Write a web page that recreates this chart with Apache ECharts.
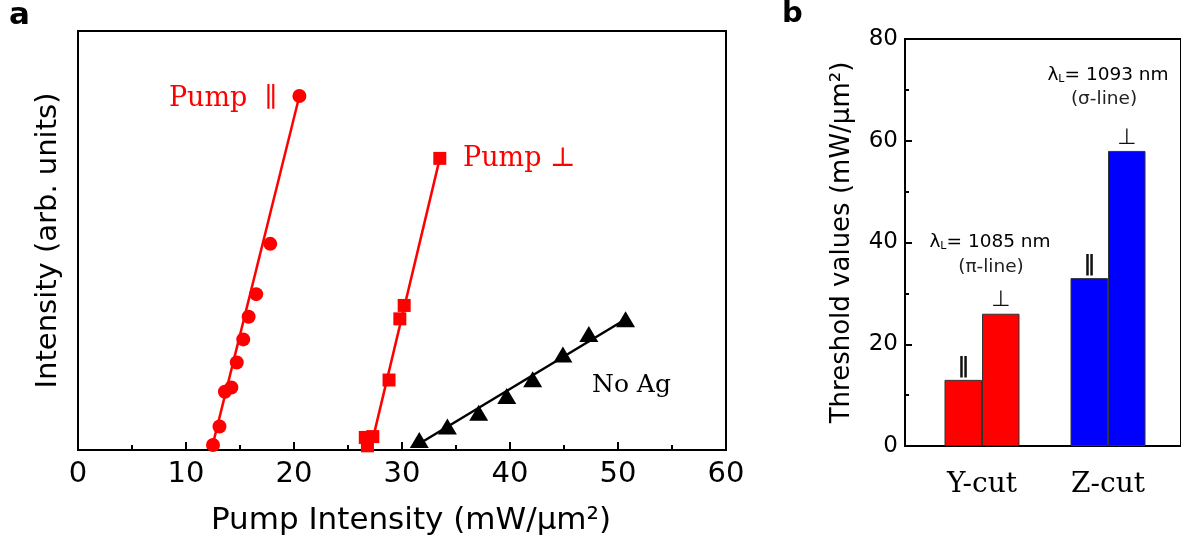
<!DOCTYPE html>
<html>
<head>
<meta charset="utf-8">
<script src="https://cdn.jsdelivr.net/npm/echarts@6/dist/echarts.min.js"></script>
<style>
  html, body { margin: 0; padding: 0; background: #fff; }
  #chart { width: 1181px; height: 550px; }
</style>
</head>
<body>
<div id="chart"></div>
<script>
// Panel a: pump intensity (mW/um^2) vs emission intensity (arb. units)
const parX = [12.5, 13.1, 13.6, 14.2, 14.7, 15.3, 15.8, 16.5, 17.8, 20.5];
const parY = [1.2, 5.6, 13.9, 14.9, 20.9, 26.4, 31.8, 37.2, 49.2, 84.5];
const perpX = [26.6, 26.8, 27.3, 28.8, 29.8, 30.2, 33.5];
const perpY = [3.0, 1.0, 3.2, 16.7, 31.3, 34.5, 69.6];
const noAgX = [31.6, 34.2, 37.1, 39.7, 42.1, 44.9, 47.3, 50.7];
const noAgY = [2.4, 5.6, 8.9, 12.9, 16.9, 22.8, 27.7, 31.2];

// linear fits (end points)
const parFit = [[12.4, 0.5], [20.5, 84.5]];
const perpFit = [[27.1, 0.5], [33.5, 69.6]];
const noAgFit = [[31.4, 1.2], [50.7, 31.2]];

// Panel b: threshold values
const cuts = ['Y-cut', 'Z-cut'];
const parThreshold = [13, 33];
const perpThreshold = [26, 58];
const cutColors = ['#ff0000', '#0000ff'];

const zip = (xs, ys) => xs.map((x, i) => [x, ys[i]]);

const chart = echarts.init(document.getElementById('chart'));

const black = '#000';
const sans = 'DejaVu Sans';
const serif = 'DejaVu Serif';

// rich style for the lambda_L annotations
const lambdaRich = {
  a: { fontFamily: sans, fontSize: 18.5, color: '#222' },
  s: { fontFamily: sans, fontSize: 11, color: '#222', verticalAlign: 'bottom' }
};

const option = {
  animation: false,
  grid: [
    { left: 78, top: 31, width: 648, height: 419, show: true, borderColor: black, borderWidth: 2 },
    { left: 905, top: 39, width: 300, height: 407, show: true, borderColor: black, borderWidth: 2 },
    { left: 919, top: 39, width: 252, height: 407 }
  ],
  xAxis: [
    {
      gridIndex: 0,
      type: 'value',
      min: 0,
      max: 60,
      interval: 10,
      axisLine: { lineStyle: { color: black, width: 2 } },
      axisTick: { inside: true, length: 8, lineStyle: { color: black, width: 2 } },
      minorTick: { show: true, splitNumber: 2, length: 5, lineStyle: { color: black, width: 2 } },
      axisLabel: { fontFamily: sans, fontSize: 29, color: black, margin: 10 },
      splitLine: { show: false },
      name: 'Pump Intensity (mW/μm²)',
      nameLocation: 'middle',
      nameGap: 55,
      nameTextStyle: { fontFamily: sans, fontSize: 31, color: black, padding: [0, 0, 0, 18] }
    },
    { gridIndex: 1, type: 'value', min: 0, max: 1, show: false },
    {
      gridIndex: 2,
      type: 'category',
      data: cuts,
      axisLine: { show: false },
      axisTick: { show: false },
      axisLabel: { fontFamily: serif, fontSize: 28, color: black, margin: 25 }
    }
  ],
  yAxis: [
    {
      gridIndex: 0,
      type: 'value',
      min: 0,
      max: 100,
      axisLine: { show: true, lineStyle: { color: black, width: 2 } },
      axisTick: { show: false },
      axisLabel: { show: false },
      splitLine: { show: false },
      name: 'Intensity (arb. units)',
      nameLocation: 'middle',
      nameGap: 15,
      nameTextStyle: { fontFamily: sans, fontSize: 29, color: black }
    },
    {
      gridIndex: 1,
      type: 'value',
      min: 0,
      max: 80,
      interval: 20,
      axisLine: { show: true, lineStyle: { color: black, width: 2 } },
      axisTick: { inside: true, length: 7, lineStyle: { color: black, width: 2 } },
      minorTick: { show: true, splitNumber: 2, length: 4, lineStyle: { color: black, width: 2 } },
      axisLabel: { fontFamily: sans, fontSize: 23, color: black, margin: 7 },
      splitLine: { show: false },
      name: 'Threshold values (mW/μm²)',
      nameLocation: 'middle',
      nameGap: 50,
      nameTextStyle: { fontFamily: sans, fontSize: 26, color: black }
    },
    { gridIndex: 2, type: 'value', min: 0, max: 80, show: false }
  ],
  series: [
    // fit lines
    { type: 'line', xAxisIndex: 0, yAxisIndex: 0, data: parFit, symbol: 'none', lineStyle: { color: '#ff0000', width: 2.5 } },
    { type: 'line', xAxisIndex: 0, yAxisIndex: 0, data: perpFit, symbol: 'none', lineStyle: { color: '#ff0000', width: 2.5 } },
    { type: 'line', xAxisIndex: 0, yAxisIndex: 0, data: noAgFit, symbol: 'none', lineStyle: { color: black, width: 2.5 } },
    // measured points
    { type: 'scatter', xAxisIndex: 0, yAxisIndex: 0, data: zip(parX, parY), symbol: 'circle', symbolSize: 14, itemStyle: { color: '#ff0000', opacity: 1 } },
    { type: 'scatter', xAxisIndex: 0, yAxisIndex: 0, data: zip(perpX, perpY), symbol: 'rect', symbolSize: 13, itemStyle: { color: '#ff0000', opacity: 1 } },
    { type: 'scatter', xAxisIndex: 0, yAxisIndex: 0, data: zip(noAgX, noAgY), symbol: 'triangle', symbolSize: [19, 16], itemStyle: { color: black, opacity: 1 } },
    // threshold bars
    {
      name: '∥',
      type: 'bar',
      xAxisIndex: 2,
      yAxisIndex: 2,
      barWidth: 37.5,
      barGap: '0%',
      data: parThreshold.map((v, i) => ({ value: v, itemStyle: { color: cutColors[i] } })),
      itemStyle: { borderColor: '#333', borderWidth: 1 },
      label: { show: true, position: 'top', distance: 2, formatter: '∥', fontFamily: sans, fontWeight: 'bold', fontSize: 22, color: '#111' }
    },
    {
      name: '⊥',
      type: 'bar',
      xAxisIndex: 2,
      yAxisIndex: 2,
      barWidth: 37.5,
      barGap: '0%',
      data: perpThreshold.map((v, i) => ({ value: v, itemStyle: { color: cutColors[i] } })),
      itemStyle: { borderColor: '#333', borderWidth: 1 },
      label: { show: true, position: 'top', distance: 2, formatter: '⊥', fontFamily: sans, fontSize: 22, color: '#111' }
    }
  ],
  graphic: [
    // panel letters
    { type: 'text', x: 9, y: 31, style: { text: 'a', font: 'bold 31px DejaVu Sans', fill: black, verticalAlign: 'bottom' } },
    { type: 'text', x: 782, y: 29, style: { text: 'b', font: 'bold 29px DejaVu Sans', fill: black, verticalAlign: 'bottom' } },
    // series annotations, panel a
    { type: 'text', x: 277, y: 99, style: { text: 'Pump  ∥', font: '27px DejaVu Serif', fill: '#ff0000', align: 'right', verticalAlign: 'middle' } },
    { type: 'text', x: 463, y: 159, style: { text: 'Pump ⊥', font: '27px DejaVu Serif', fill: '#ff0000', align: 'left', verticalAlign: 'middle' } },
    { type: 'text', x: 592, y: 385, style: { text: 'No Ag', font: '25px DejaVu Serif', fill: black, align: 'left', verticalAlign: 'middle' } },
    // laser wavelength annotations, panel b
    { type: 'text', x: 990, y: 242, style: { text: '{a|λ}{s|L}{a|= 1085 nm}', align: 'center', verticalAlign: 'middle', rich: lambdaRich } },
    { type: 'text', x: 991, y: 267, style: { text: '(π-line)', font: '18.5px DejaVu Sans', fill: '#222', align: 'center', verticalAlign: 'middle' } },
    { type: 'text', x: 1108, y: 75, style: { text: '{a|λ}{s|L}{a|= 1093 nm}', align: 'center', verticalAlign: 'middle', rich: lambdaRich } },
    { type: 'text', x: 1104, y: 99, style: { text: '(σ-line)', font: '18.5px DejaVu Sans', fill: '#222', align: 'center', verticalAlign: 'middle' } }
  ]
};

chart.setOption(option);
</script>
</body>
</html>
